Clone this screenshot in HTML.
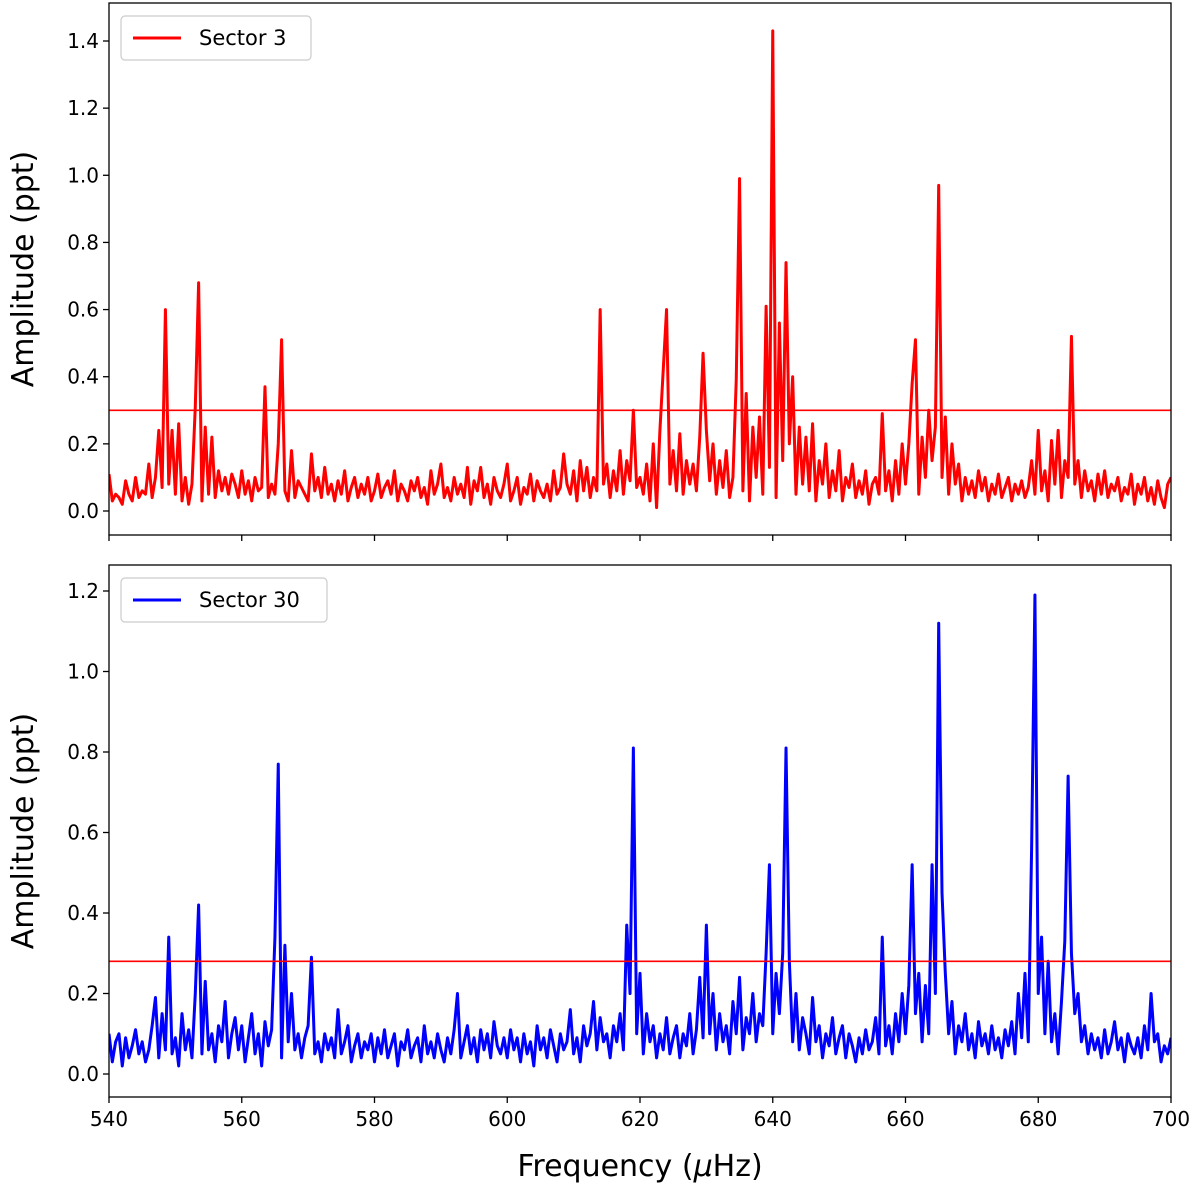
<!DOCTYPE html>
<html><head><meta charset="utf-8"><style>
html,body{margin:0;padding:0;background:#fff;}
svg{display:block;font-family:"DejaVu Sans","Liberation Sans",sans-serif;}
</style></head><body>
<svg id="chart" width="1200" height="1193" viewBox="0 0 1200 1193" xmlns="http://www.w3.org/2000/svg"></svg>
<script>
const freqStart = 540, freqStep = 0.5;
const xTicks = [540,560,580,600,620,640,660,680,700];
const topYTicks = [0.0,0.2,0.4,0.6,0.8,1.0,1.2,1.4];
const botYTicks = [0.0,0.2,0.4,0.6,0.8,1.0,1.2];
const topThreshold = 0.30;
const botThreshold = 0.28;
const sector3 = [
0.11,0.03,0.05,0.04,0.02,0.09,0.05,0.03,0.10,0.04,
0.06,0.05,0.14,0.04,0.10,0.24,0.07,0.60,0.08,0.24,
0.05,0.26,0.03,0.10,0.02,0.08,0.31,0.68,0.03,0.25,
0.05,0.22,0.04,0.12,0.06,0.10,0.05,0.11,0.08,0.04,
0.12,0.05,0.09,0.03,0.10,0.06,0.07,0.37,0.04,0.08,
0.05,0.20,0.51,0.06,0.03,0.18,0.04,0.09,0.07,0.05,
0.03,0.17,0.06,0.10,0.04,0.13,0.05,0.08,0.03,0.09,
0.05,0.12,0.03,0.07,0.10,0.04,0.08,0.05,0.10,0.03,
0.06,0.11,0.04,0.07,0.09,0.05,0.12,0.03,0.08,0.06,
0.03,0.09,0.06,0.10,0.04,0.07,0.02,0.12,0.05,0.08,
0.14,0.04,0.07,0.03,0.10,0.05,0.08,0.04,0.13,0.02,
0.09,0.06,0.13,0.04,0.08,0.02,0.10,0.06,0.04,0.08,
0.14,0.03,0.06,0.10,0.02,0.07,0.05,0.11,0.03,0.09,
0.06,0.04,0.08,0.03,0.12,0.05,0.07,0.17,0.08,0.05,
0.12,0.03,0.15,0.06,0.13,0.04,0.10,0.06,0.60,0.08,
0.14,0.04,0.12,0.06,0.18,0.05,0.15,0.09,0.30,0.07,
0.10,0.05,0.14,0.03,0.20,0.01,0.24,0.42,0.60,0.08,
0.18,0.06,0.23,0.05,0.15,0.08,0.14,0.06,0.22,0.47,
0.24,0.09,0.20,0.05,0.15,0.07,0.18,0.04,0.10,0.39,
0.99,0.06,0.35,0.03,0.25,0.10,0.28,0.05,0.61,0.13,
1.43,0.04,0.56,0.15,0.74,0.20,0.40,0.05,0.25,0.08,
0.22,0.06,0.26,0.03,0.15,0.08,0.20,0.04,0.12,0.06,
0.18,0.03,0.10,0.07,0.14,0.04,0.09,0.05,0.12,0.02,
0.08,0.10,0.05,0.29,0.06,0.12,0.03,0.15,0.05,0.20,
0.08,0.20,0.38,0.51,0.05,0.22,0.10,0.30,0.15,0.25,
0.97,0.10,0.28,0.05,0.20,0.08,0.14,0.03,0.10,0.05,
0.09,0.04,0.12,0.06,0.10,0.03,0.08,0.05,0.11,0.04,
0.07,0.10,0.03,0.08,0.05,0.09,0.04,0.07,0.15,0.05,
0.24,0.06,0.12,0.03,0.21,0.08,0.24,0.04,0.15,0.10,
0.52,0.08,0.15,0.04,0.12,0.06,0.09,0.03,0.11,0.05,
0.12,0.04,0.08,0.06,0.10,0.03,0.07,0.05,0.11,0.02,
0.08,0.05,0.10,0.03,0.07,0.02,0.09,0.04,0.01,0.08,
0.10];
const sector30 = [
0.10,0.03,0.08,0.10,0.02,0.09,0.04,0.07,0.11,0.05,
0.08,0.03,0.06,0.12,0.19,0.04,0.15,0.06,0.34,0.05,
0.09,0.02,0.15,0.06,0.11,0.04,0.20,0.42,0.05,0.23,
0.06,0.10,0.03,0.12,0.08,0.18,0.04,0.10,0.14,0.06,
0.12,0.03,0.09,0.15,0.05,0.10,0.02,0.13,0.07,0.11,
0.34,0.77,0.04,0.32,0.08,0.20,0.06,0.10,0.04,0.09,
0.12,0.29,0.05,0.08,0.03,0.10,0.06,0.09,0.04,0.16,
0.05,0.08,0.12,0.03,0.07,0.10,0.04,0.08,0.06,0.10,
0.03,0.09,0.05,0.11,0.04,0.07,0.10,0.02,0.08,0.06,
0.11,0.04,0.07,0.09,0.03,0.12,0.05,0.08,0.04,0.10,
0.06,0.03,0.09,0.05,0.11,0.20,0.04,0.08,0.12,0.05,
0.09,0.03,0.11,0.06,0.10,0.04,0.13,0.07,0.05,0.09,
0.04,0.11,0.06,0.09,0.03,0.10,0.05,0.08,0.02,0.12,
0.06,0.09,0.04,0.11,0.07,0.03,0.10,0.06,0.08,0.16,
0.05,0.09,0.03,0.12,0.07,0.10,0.18,0.06,0.14,0.08,
0.10,0.04,0.12,0.08,0.15,0.06,0.37,0.20,0.81,0.10,
0.25,0.05,0.15,0.08,0.12,0.04,0.10,0.06,0.14,0.05,
0.09,0.12,0.04,0.10,0.07,0.15,0.05,0.11,0.24,0.09,
0.37,0.10,0.20,0.06,0.15,0.08,0.12,0.05,0.18,0.10,
0.24,0.06,0.14,0.10,0.20,0.08,0.15,0.12,0.30,0.52,
0.10,0.25,0.15,0.30,0.81,0.28,0.08,0.20,0.06,0.14,
0.10,0.05,0.19,0.08,0.12,0.04,0.10,0.07,0.14,0.05,
0.09,0.12,0.04,0.10,0.07,0.03,0.09,0.05,0.11,0.06,
0.08,0.14,0.05,0.34,0.07,0.12,0.05,0.15,0.08,0.20,
0.10,0.22,0.52,0.15,0.25,0.08,0.22,0.10,0.52,0.20,
1.12,0.45,0.25,0.10,0.18,0.05,0.12,0.08,0.15,0.06,
0.10,0.04,0.13,0.07,0.10,0.05,0.12,0.06,0.09,0.04,
0.11,0.07,0.13,0.05,0.20,0.09,0.25,0.08,0.56,1.19,
0.20,0.34,0.10,0.28,0.08,0.15,0.05,0.18,0.33,0.74,
0.30,0.15,0.20,0.08,0.12,0.05,0.10,0.06,0.09,0.04,
0.11,0.05,0.08,0.13,0.06,0.09,0.03,0.10,0.07,0.05,
0.09,0.04,0.12,0.06,0.20,0.08,0.10,0.03,0.07,0.05,
0.09];

const NS = "http://www.w3.org/2000/svg";
const svg = document.getElementById('chart');
const X0 = 109, X1 = 1171;
function xScale(f){ return X0 + (f - 540) / 160 * (X1 - X0); }
function mk(tag, attrs, parent){
  const e = document.createElementNS(NS, tag);
  for (const k in attrs) e.setAttribute(k, attrs[k]);
  (parent || svg).appendChild(e);
  return e;
}

function panel(cfg){
  const g = mk('g', {});
  
  
  const yScale = v => cfg.y0 + (v / cfg.yMax) * (cfg.yTop - cfg.y0);
  const cid = cfg.name + '-clip';
  const defs = mk('defs', {}, g);
  const cp = mk('clipPath', {id: cid}, defs);
  mk('rect', {x: X0, y: cfg.top, width: X1 - X0, height: cfg.bottom - cfg.top}, cp);
  let d = '';
  cfg.values.forEach((v, i) => {
    const f = freqStart + i * freqStep;
    d += (i ? 'L' : 'M') + xScale(f).toFixed(2) + ',' + yScale(v).toFixed(2);
  });
  const line = mk('path', {d: d, fill: 'none', stroke: cfg.color, 'stroke-width': 3, 'stroke-linejoin': 'round', 'clip-path': 'url(#' + cid + ')'}, g);
  
  
  const th = mk('line', {x1: X0, x2: X1, y1: yScale(cfg.threshold), y2: yScale(cfg.threshold), stroke: '#ff0000', 'stroke-width': 1.6}, g);
  
  
  const fr = mk('rect', {x: X0, y: cfg.top, width: X1 - X0, height: cfg.bottom - cfg.top, fill: 'none', stroke: '#000', 'stroke-width': 1.3}, g);
  
  
  cfg.yTicks.forEach(t => {
    const y = yScale(t);
    mk('line', {x1: X0 - 6, x2: X0, y1: y, y2: y, stroke: '#000', 'stroke-width': 1.3}, g);
    const tx = mk('text', {x: X0 - 10, y: y + 7, 'text-anchor': 'end', 'font-size': 20}, g);
    tx.textContent = t.toFixed(1);
    
    
  });
  xTicks.forEach(t => {
    const x = xScale(t);
    mk('line', {x1: x, x2: x, y1: cfg.bottom, y2: cfg.bottom + 6, stroke: '#000', 'stroke-width': 1.3}, g);
    if (cfg.xLabels){
      const tx = mk('text', {x: x, y: cfg.bottom + 29, 'text-anchor': 'middle', 'font-size': 20}, g);
      tx.textContent = t;
      
      
    }
  });
  const cy = (cfg.top + cfg.bottom) / 2;
  const yl = mk('text', {x: 0, y: 0, transform: 'translate(33,' + cy + ') rotate(-90)', 'text-anchor': 'middle', 'font-size': 30}, g);
  yl.textContent = 'Amplitude (ppt)';
  
  
  const lg = mk('g', {}, g);
  
  
  mk('rect', {x: 121, y: cfg.top + 13, width: cfg.legendW, height: 44, rx: 4, fill: '#fff', stroke: '#ccc', 'stroke-width': 1.2}, lg);
  mk('line', {x1: 133, x2: 181, y1: cfg.top + 35, y2: cfg.top + 35, stroke: cfg.color, 'stroke-width': 3}, lg);
  const lt = mk('text', {x: 199, y: cfg.top + 42, 'font-size': 21}, lg);
  lt.textContent = cfg.label;
  
  
}

panel({name: 'sector-3-panel', seriesName: 'sector-3-line', values: sector3, color: '#ff0000', top: 3, bottom: 535, y0: 511, yTop: 41, yMax: 1.4, yTicks: topYTicks, threshold: topThreshold, label: 'Sector 3', legendW: 190, xLabels: false});
panel({name: 'sector-30-panel', seriesName: 'sector-30-line', values: sector30, color: '#0000ff', top: 565, bottom: 1097, y0: 1074, yTop: 591, yMax: 1.2, yTicks: botYTicks, threshold: botThreshold, label: 'Sector 30', legendW: 206, xLabels: true});

const xl = mk('text', {x: (X0 + X1) / 2, y: 1176, 'text-anchor': 'middle', 'font-size': 30});


xl.appendChild(document.createTextNode('Frequency ('));
const mu = mk('tspan', {'font-style': 'italic'}, xl);
mu.textContent = 'μ';
xl.appendChild(document.createTextNode('Hz)'));
</script>
</body></html>
